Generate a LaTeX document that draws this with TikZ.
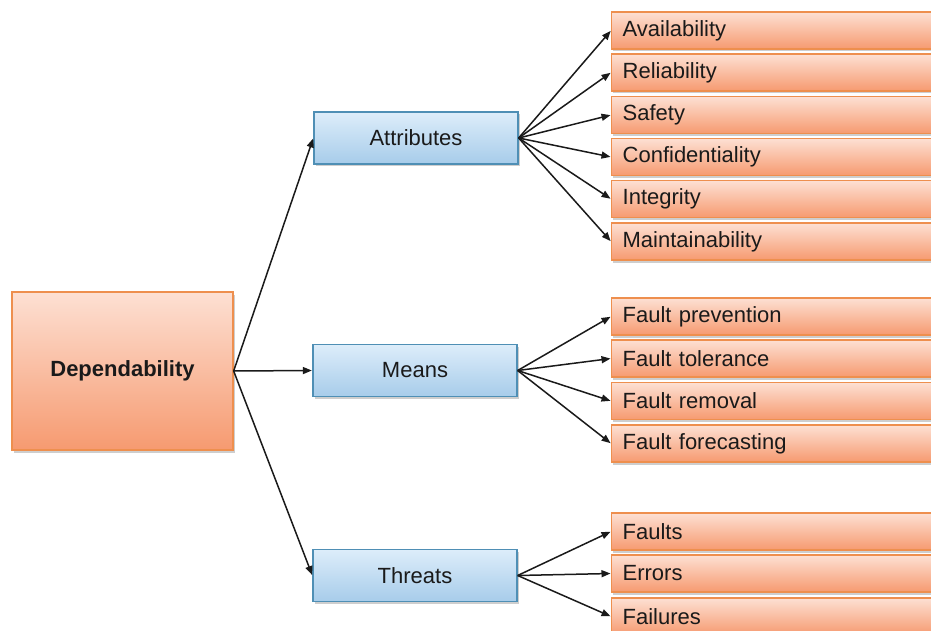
\documentclass[tikz,border=0pt]{standalone}
\usepackage{fontspec}
\setmainfont{Liberation Sans}
\usetikzlibrary{arrows.meta,shadows}

\definecolor{orTop}{HTML}{FDE0D3}
\definecolor{orBot}{HTML}{F69A70}
\definecolor{orLine}{HTML}{EE8F4E}
\definecolor{blTop}{HTML}{DDEDFA}
\definecolor{blBot}{HTML}{A7CCEA}
\definecolor{blLine}{HTML}{4F8FB5}
\definecolor{ink}{HTML}{1A1A1A}

\tikzset{
  boxshadow/.style={drop shadow={shadow xshift=1.5pt, shadow yshift=-2.5pt, opacity=0.35, fill=black!55}},
  rootbox/.style={draw=orLine, line width=1.3pt, top color=orTop, bottom color=orBot,
    minimum width=221pt, minimum height=158pt, inner sep=0pt, boxshadow,
    font=\fontsize{22}{26}\selectfont\bfseries, text=ink},
  groupbox/.style={draw=blLine, line width=1.3pt, top color=blTop, bottom color=blBot,
    minimum width=204pt, minimum height=52pt, inner sep=0pt, boxshadow,
    font=\fontsize{22}{26}\selectfont, text=ink},
  leafbox/.style={draw=orLine, line width=1.3pt, top color=orTop, bottom color=orBot,
    minimum width=360pt, minimum height=37pt, inner xsep=11pt, inner ysep=0pt,
    text width=338pt, align=left, anchor=west, boxshadow,
    font=\fontsize{22}{26}\selectfont, text=ink},
  link/.style={draw=ink, line width=1.5pt, -{Triangle[length=9pt,width=7pt]}, shorten >=0.5pt},
}

\begin{document}
\begin{tikzpicture}[x=1pt, y=-1pt]
  \useasboundingbox (0,0) rectangle (931,631);
  \clip (0,0) rectangle (931,631);
  \fill[white] (0,0) rectangle (931,631);

  % root and the three groups
  \node[rootbox] (dep) at (122.5,371) {Dependability};
  \node[groupbox] (att) at (416,138) {Attributes};
  \node[groupbox] (mea) at (415,370.5) {Means};
  \node[groupbox] (thr) at (415,575.5) {Threats};

  % attributes
  \node[leafbox] (av) at (611,30.5)  {Availability};
  \node[leafbox] (re) at (611,72.5)  {Reliability};
  \node[leafbox] (sa) at (611,115)   {Safety};
  \node[leafbox] (co) at (611,157)   {Confidentiality};
  \node[leafbox] (in) at (611,199)   {Integrity};
  \node[leafbox] (ma) at (611,241.5) {Maintainability};

  % means
  \node[leafbox] (fp) at (611,316.5) {Fault prevention};
  \node[leafbox] (ft) at (611,358.5) {Fault tolerance};
  \node[leafbox] (fr) at (611,401)   {Fault removal};
  \node[leafbox] (ff) at (611,443.5) {Fault forecasting};

  % threats
  \node[leafbox] (fa) at (611,531.5) {Faults};
  \node[leafbox] (er) at (611,573.5) {Errors};
  \node[leafbox] (fl) at (611,616.5) {Failures};

  % connectors
  \foreach \g in {att,mea,thr} \draw[link] (dep.east) -- (\g.west);
  \foreach \c in {av,re,sa,co,in,ma} \draw[link] (att.east) -- (\c.west);
  \foreach \c in {fp,ft,fr,ff} \draw[link] (mea.east) -- (\c.west);
  \foreach \c in {fa,er,fl} \draw[link] (thr.east) -- (\c.west);
\end{tikzpicture}
\end{document}
